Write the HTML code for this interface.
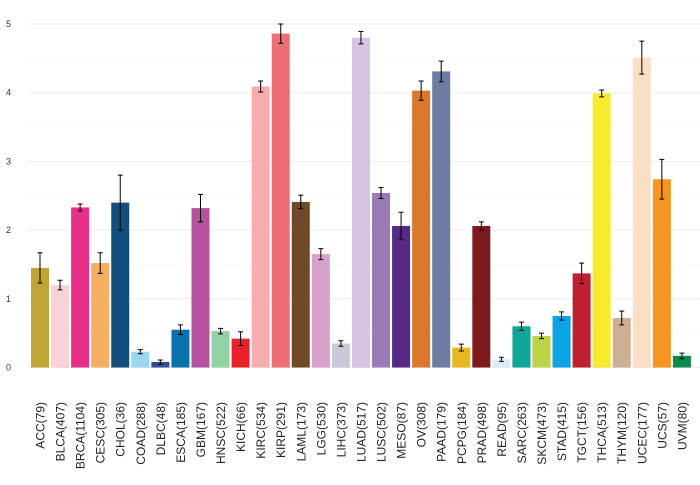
<!DOCTYPE html>
<html><head><meta charset="utf-8"><style>
body{margin:0;background:#fff;font-family:"Liberation Sans",sans-serif}
svg text{font-family:"Liberation Sans",sans-serif}
</style></head><body>
<svg id="chart" width="700" height="480" xmlns="http://www.w3.org/2000/svg">
<g id="grid"></g>
<g id="bars"></g>
<g id="yaxis"></g>
<g id="xaxis"></g>
</svg>
<script>
const categories=["ACC(79)","BLCA(407)","BRCA(1104)","CESC(305)","CHOL(36)","COAD(288)","DLBC(48)","ESCA(185)","GBM(167)","HNSC(522)","KICH(66)","KIRC(534)","KIRP(291)","LAML(173)","LGG(530)","LIHC(373)","LUAD(517)","LUSC(502)","MESO(87)","OV(308)","PAAD(179)","PCPG(184)","PRAD(498)","READ(95)","SARC(263)","SKCM(473)","STAD(415)","TGCT(156)","THCA(513)","THYM(120)","UCEC(177)","UCS(57)","UVM(80)"];
const values=[1.45,1.2,2.33,1.52,2.4,0.23,0.08,0.55,2.32,0.53,0.42,4.09,4.86,2.41,1.65,0.35,4.8,2.54,2.06,4.03,4.31,0.29,2.06,0.12,0.6,0.46,0.75,1.37,3.99,0.72,4.51,2.74,0.17];
const errors=[0.22,0.07,0.05,0.15,0.4,0.03,0.03,0.07,0.2,0.04,0.1,0.08,0.14,0.1,0.08,0.04,0.09,0.08,0.2,0.14,0.15,0.05,0.06,0.03,0.06,0.04,0.06,0.15,0.05,0.1,0.24,0.29,0.04];
const colors=["#c1a436","#f8d2d8","#e8308a","#f6ae63","#124e7e","#9bd6f2","#304e9c","#0a72aa","#b3529d","#93d0a6","#e8222b","#f7adaf","#ed6e73","#704a28","#d6a2c9","#c8c9d9","#d5c3e0","#9b7ab5","#542a84","#d9782a","#6e7ca2","#e7b81f","#7e1a1e","#daeaf6","#0ea695","#bcd343","#0aa4e4","#bf2031","#f8ea2c","#cdae91","#f9dfc3","#f6951f","#0a8a4d"];
const yTicks=[0,1,2,3,4,5];
const y0=367.5,yk=68.7,x0=40,step=20.06,bw=18;
const Y=v=>y0-v*yk, X=i=>x0+i*step;
const ns="http://www.w3.org/2000/svg";
function mk(t,a,p){const e=document.createElementNS(ns,t);for(const k in a)e.setAttribute(k,a[k]);p.appendChild(e);return e;}
const grid=document.getElementById('grid'),bars=document.getElementById('bars'),ya=document.getElementById('yaxis'),xa=document.getElementById('xaxis');
yTicks.forEach(t=>{
  const g=mk('line',{x1:28,x2:700,y1:Y(t),y2:Y(t),stroke:'#ebebeb','stroke-width':1},grid);
  
  
  const h=mk('line',{x1:28,x2:700,y1:Y(t+0.5),y2:Y(t+0.5),stroke:'#f5f5f5','stroke-width':0.6},grid);
  
  
  const l=mk('text',{x:11,y:Y(t)+3,'font-size':9,fill:'#333','text-anchor':'end'},ya);
  l.textContent=t;
  
  
});
categories.forEach((c,i)=>{
  const cx=X(i),v=values[i],e=errors[i];
  const r=mk('rect',{x:cx-bw/2,y:Y(v),width:bw,height:y0-Y(v),fill:colors[i]},bars);
  
  
  const eb=mk('path',{d:`M${cx-2.5},${Y(v+e)}H${cx+2.5}M${cx},${Y(v+e)}V${Y(v-e)}M${cx-2.5},${Y(v-e)}H${cx+2.5}`,stroke:'#000','stroke-width':1,fill:'none'},bars);
  
  
  const t=mk('text',{x:0,y:0,'font-size':12,fill:'#222','text-anchor':'end',transform:`translate(${cx+4.5},402) rotate(-90)`},xa);
  t.textContent=c;
  
  
});
</script>
</body></html>
